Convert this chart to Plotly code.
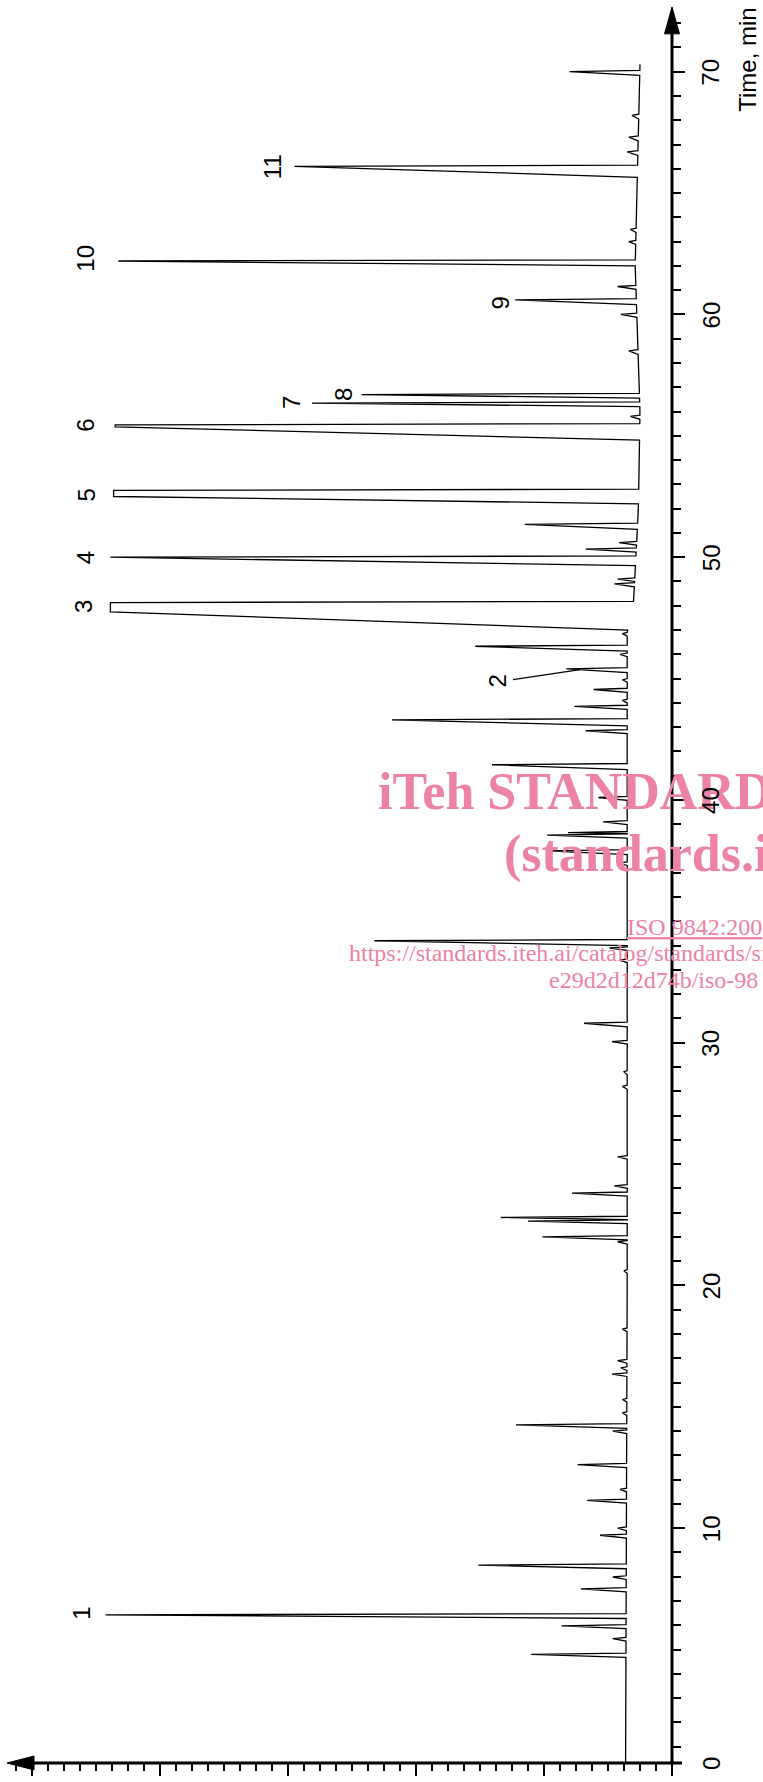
import numpy as np
import plotly.graph_objects as go

# ---------------------------------------------------------------- data
# Retention time of each peak apex (min) and detector response (chart divisions)
peak_time = [4.80, 5.45, 5.98, 6.43, 7.50, 7.99, 8.48, 9.71, 10.0, 11.15,
             11.6, 12.62, 14.0, 14.26, 14.75, 15.3, 16.35, 16.6, 16.9, 18.2,
             20.6, 21.8, 22.0, 22.65, 22.8, 23.8, 24.1, 25.3, 28.2, 28.8,
             30.04, 30.8, 33.4, 33.9, 34.2, 37.4, 37.9, 38.55, 38.65, 39.1,
             40.1, 41.45, 42.85, 43.3, 43.85, 44.1, 44.55, 44.95, 45.4, 46.0,
             46.33, 46.85, 47.75, 48.9, 49.1, 50.0, 50.33, 50.6, 51.35, 52.5,
             55.37, 55.8, 56.35, 56.7, 58.5, 60.0, 60.6, 61.15, 62.2, 63.0,
             63.5, 66.1, 66.7, 67.3, 68.2, 70.0]
peak_height = [8.8, 3.7, 6.9, 35.4, 5.7, 3.7, 12.1, 4.5, 3.4, 5.3,
               3.25, 5.9, 3.7, 9.75, 3.1, 3.1, 3.75, 3.2, 3.4, 3.1,
               3.0, 3.4, 8.1, 9.0, 10.7, 6.25, 3.6, 3.4, 3.1, 3.0,
               3.75, 5.5, 3.3, 3.9, 18.6, 3.4, 7.75, 7.8, 6.5, 4.3,
               4.6, 11.25, 5.4, 17.5, 6.1, 3.1, 4.9, 3.1, 6.6, 3.25,
               12.3, 3.1, 35.1, 3.6, 3.4, 35.1, 5.4, 3.3, 9.2, 34.9,
               34.8, 2.6, 22.5, 19.4, 2.7, 3.2, 9.8, 3.4, 34.6, 2.7,
               2.6, 23.6, 2.8, 2.7, 2.5, 6.4]
# duration of the leading edge (min)
peak_rise = [0.12, 0.10, 0.12, 0.15, 0.12, 0.10, 0.15, 0.12, 0.10, 0.12,
             0.10, 0.12, 0.10, 0.15, 0.10, 0.10, 0.10, 0.10, 0.10, 0.10,
             0.10, 0.10, 0.12, 0.10, 0.12, 0.12, 0.10, 0.10, 0.12, 0.12,
             0.10, 0.15, 0.10, 0.10, 0.20, 0.10, 0.15, 0.12, 0.08, 0.12,
             0.12, 0.20, 0.12, 0.25, 0.12, 0.10, 0.12, 0.10, 0.15, 0.10,
             0.20, 0.10, 0.75, 0.12, 0.10, 0.35, 0.12, 0.10, 0.20, 0.30,
             0.55, 0.12, 0.15, 0.15, 0.15, 0.12, 0.20, 0.12, 0.20, 0.12,
             0.12, 0.45, 0.15, 0.15, 0.15, 0.15]
# off-scale peaks are flat at the pen limit for this long (min)
peak_flat = {47.75: 0.38, 52.5: 0.25, 55.37: 0.08}
peak_fall = 0.05

# baseline drift
baseline_time = [0.33, 20.0, 46.9, 48.2, 52.0, 56.0, 62.0, 70.3]
baseline_level = [2.9, 2.8, 2.8, 2.4, 2.1, 2.0, 2.3, 2.0]

run_start, run_end = 0.33, 70.3

axis_major = [10, 20, 30, 40, 50, 60, 70]
peak_labels = ["1", "2", "3", "4", "5", "6", "7", "8", "9", "10", "11"]

# ---------------------------------------------------------------- geometry
W, H = 763, 1782
X0, X1 = 7, 672      # px: arrow tip of signal axis, time axis
Y0, Y1 = 7, 1772     # px: arrow tip of time axis, signal axis
PX_UNIT = 16.0       # px per signal division
PX_MIN = 24.4        # px per minute
T0_PX = 1780.0       # px row of t = 0

s_max = (X1 - X0) / PX_UNIT
t_lo = (T0_PX - Y1) / PX_MIN
t_hi = (T0_PX - Y0) / PX_MIN


def px_x(x):
    return (x - X0) / (X1 - X0)


def px_y(y):
    return (Y1 - y) / (Y1 - Y0)


def px_to_s(x):
    return (X1 - x) / PX_UNIT


def px_to_t(y):
    return (T0_PX - y) / PX_MIN


def base(t):
    return float(np.interp(t, baseline_time, baseline_level))


# ---------------------------------------------------------------- trace
tt = [run_start]
ss = [base(run_start)]
prev_end = run_start
for t, h, r in zip(peak_time, peak_height, peak_rise):
    start = max(t - r, prev_end + 0.01)
    top = peak_flat.get(t, 0.0)
    tt.append(start); ss.append(base(start))
    tt.append(t); ss.append(h)
    if top > 0:
        tt.append(t + top); ss.append(h)
    end = t + top + peak_fall
    tt.append(end); ss.append(base(end))
    prev_end = end
tt.append(run_end); ss.append(base(run_end))

fig = go.Figure()
fig.add_trace(go.Scatter(x=ss, y=tt, mode="lines",
                         line=dict(color="black", width=1.3),
                         hoverinfo="skip", showlegend=False))

# ---------------------------------------------------------------- axes
tickfont = dict(family="Liberation Sans, Arial, sans-serif", size=24, color="black")
fig.update_layout(
    width=W, height=H,
    margin=dict(l=X0, r=W - X1, t=Y0, b=H - Y1, pad=0),
    paper_bgcolor="white", plot_bgcolor="white",
    showlegend=False,
    xaxis=dict(range=[s_max, 0], showgrid=False, zeroline=False, showline=False,
               ticks="outside", tick0=0, dtick=8, ticklen=12, tickwidth=2,
               tickcolor="black", showticklabels=False,
               minor=dict(dtick=1, tick0=0, ticks="outside", ticklen=7,
                          tickwidth=2, tickcolor="black")),
    yaxis=dict(range=[t_lo, t_hi], side="right", showgrid=False, zeroline=False,
               showline=False, ticks="outside", tick0=0, dtick=10, ticklen=12,
               tickwidth=2, tickcolor="black", showticklabels=False,
               minor=dict(dtick=1, tick0=0, ticks="outside", ticklen=8,
                          tickwidth=2, tickcolor="black")),
)

shapes = []
# time axis with arrow
shapes.append(dict(type="line", xref="paper", yref="paper",
                   x0=1, x1=1, y0=px_y(Y1 + 1), y1=px_y(30),
                   line=dict(color="black", width=3)))
shapes.append(dict(type="path", xref="paper", yref="paper",
                   path=f"M {px_x(X1)} {px_y(Y0)} L {px_x(X1 - 7.5)} {px_y(34)} "
                        f"L {px_x(X1 + 7.5)} {px_y(34)} Z",
                   fillcolor="black", line=dict(color="black", width=1)))
# signal axis with arrow
shapes.append(dict(type="line", xref="paper", yref="paper",
                   x0=px_x(30), x1=px_x(X1 + 10), y0=0, y1=0,
                   line=dict(color="black", width=3)))
shapes.append(dict(type="path", xref="paper", yref="paper",
                   path=f"M {px_x(X0)} {px_y(Y1)} L {px_x(34)} {px_y(Y1 - 7)} "
                        f"L {px_x(34)} {px_y(Y1 + 7)} Z",
                   fillcolor="black", line=dict(color="black", width=1)))
# leader line for peak 2
shapes.append(dict(type="line", xref="x", yref="y",
                   x0=px_to_s(513), y0=px_to_t(683), x1=px_to_s(580), y1=px_to_t(673),
                   line=dict(color="black", width=1.2)))
fig.update_layout(shapes=shapes)

ann = []

# publisher stamp (drawn first so the axis labels sit on top of it)
pink = "#ec82a6"
stamp = [
    ("<b>iTeh STANDARD</b>", 376, 796, 52),
    ("<b>(standards.i</b>", 502, 858, 52),
    ("<u>ISO 9842:200</u>", 625, 932, 24),
    ("https://standards.iteh.ai/catalog/standards/si", 347, 958, 24),
    ("e29d2d12d74b/iso-98", 547, 985, 24),
]
for txt, sx, sy, fs in stamp:
    ann.append(dict(x=px_x(sx), y=px_y(sy), xref="paper", yref="paper", text=txt,
                    showarrow=False, xanchor="left", yanchor="middle",
                    font=dict(family="Liberation Serif, Times New Roman, serif",
                              size=fs, color=pink)))

for v in axis_major:
    ann.append(dict(x=px_x(711), y=v, xref="paper", yref="y", text=str(v),
                    textangle=-90, showarrow=False, font=tickfont,
                    xanchor="center", yanchor="middle"))
ann.append(dict(x=px_x(711), y=px_y(Y1), xref="paper", yref="paper", text="0",
                textangle=-90, showarrow=False, font=tickfont,
                xanchor="center", yanchor="middle"))
ann.append(dict(x=px_x(748), y=px_y(60), xref="paper", yref="paper", text="Time, min",
                textangle=-90, showarrow=False, font=tickfont,
                xanchor="center", yanchor="middle"))

label_px = [(82, 1622), (498, 685), (84, 610), (85, 561), (86, 498), (86, 428),
            (292, 405), (343, 397), (500, 305), (86, 260), (272, 168)]
for txt, (lx, ly) in zip(peak_labels, label_px):
    ann.append(dict(x=px_to_s(lx), y=px_to_t(ly), xref="x", yref="y", text=txt,
                    textangle=-90, showarrow=False, font=tickfont,
                    xanchor="center", yanchor="middle"))

fig.update_layout(annotations=ann)

fig.write_html("out.html")
